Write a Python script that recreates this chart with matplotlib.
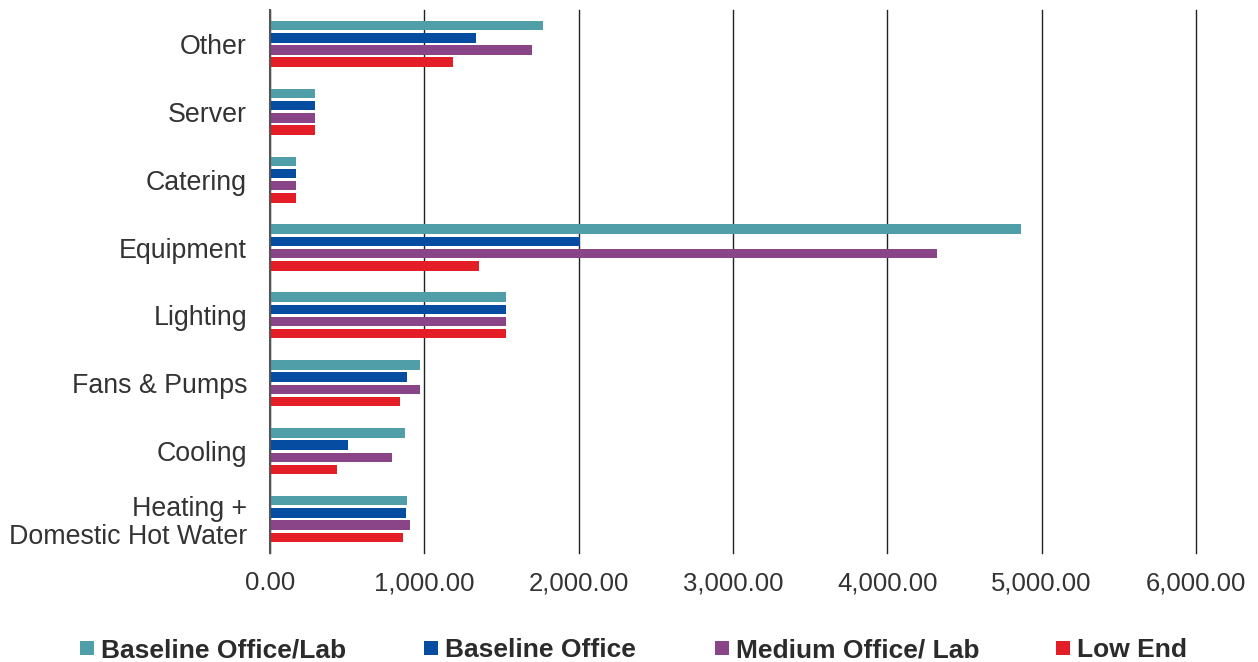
import matplotlib

matplotlib.use("Agg")
import matplotlib.pyplot as plt
from matplotlib.patches import Rectangle
import numpy as np

plt.rcParams["font.family"] = ["Liberation Sans", "DejaVu Sans"]

# End uses, top to bottom
categories = ["Other", "Server", "Catering", "Equipment", "Lighting",
              "Fans & Pumps", "Cooling", "Heating +\nDomestic Hot Water"]
series_names = ["Baseline Office/Lab", "Baseline Office", "Medium Office/ Lab", "Low End"]

baseline_office_lab = [1767, 289, 170, 4865, 1530, 971, 872, 891]
baseline_office = [1338, 289, 170, 2009, 1530, 891, 503, 882]
medium_office_lab = [1698, 289, 170, 4319, 1530, 971, 792, 906]
low_end = [1185, 289, 170, 1357, 1530, 843, 432, 859]

tick_values = [0, 1000, 2000, 3000, 4000, 5000, 6000]

COLORS = ["#4f9ea8", "#064ca0", "#8a4488", "#e31e26"]
TEXT = "#333333"
W, H = 1258, 662

fig = plt.figure(figsize=(W / 100, H / 100), dpi=100)
ax = fig.add_axes([0.2146, 0.1647, 0.7361, 0.8203])

series = [baseline_office_lab, baseline_office, medium_office_lab, low_end]
y = np.arange(len(categories))
pitch = 0.18
height = 0.14
for i, (vals, name, col) in enumerate(zip(series, series_names, COLORS)):
    offs = (i - 1.5) * pitch
    ax.barh(y + offs, vals, height=height, color=col, label=name, zorder=3)

ax.set_ylim(len(categories) - 0.5, -0.5)
ax.set_xlim(0, 6000)
ax.set_xticks(tick_values)
ax.set_xticklabels([f"{v:,.2f}" for v in tick_values], fontsize=18.5, color=TEXT)
ax.set_yticks(y)
ax.set_yticklabels(categories, fontsize=19.3, color=TEXT, linespacing=1.12)
ax.tick_params(axis="both", length=0)
ax.tick_params(axis="x", pad=13)
ax.tick_params(axis="y", pad=16.5)

ax.grid(axis="x", color="#222222", linewidth=1.0, zorder=0)
for line in ax.get_xgridlines():
    line.set_clip_on(False)
for s in ["top", "right", "bottom"]:
    ax.spines[s].set_visible(False)
ax.spines["left"].set_color("#555555")
ax.spines["left"].set_linewidth(1.5)
ax.spines["left"].set_zorder(4)

# legend row along the bottom, laid out by hand so the labels share one baseline
legend_x = [80, 424, 715, 1056]
for px, name, col in zip(legend_x, series_names, COLORS):
    fig.patches.append(Rectangle((px / W, (H - 655) / H), 14 / W, 14 / H,
                                 transform=fig.transFigure, color=col, lw=0))
    fig.text((px + 21) / W, (H - 657) / H, name, fontsize=19, fontweight="bold",
             color="#2b2b2b", va="baseline", ha="left")

fig.savefig("out.png", dpi=100)
